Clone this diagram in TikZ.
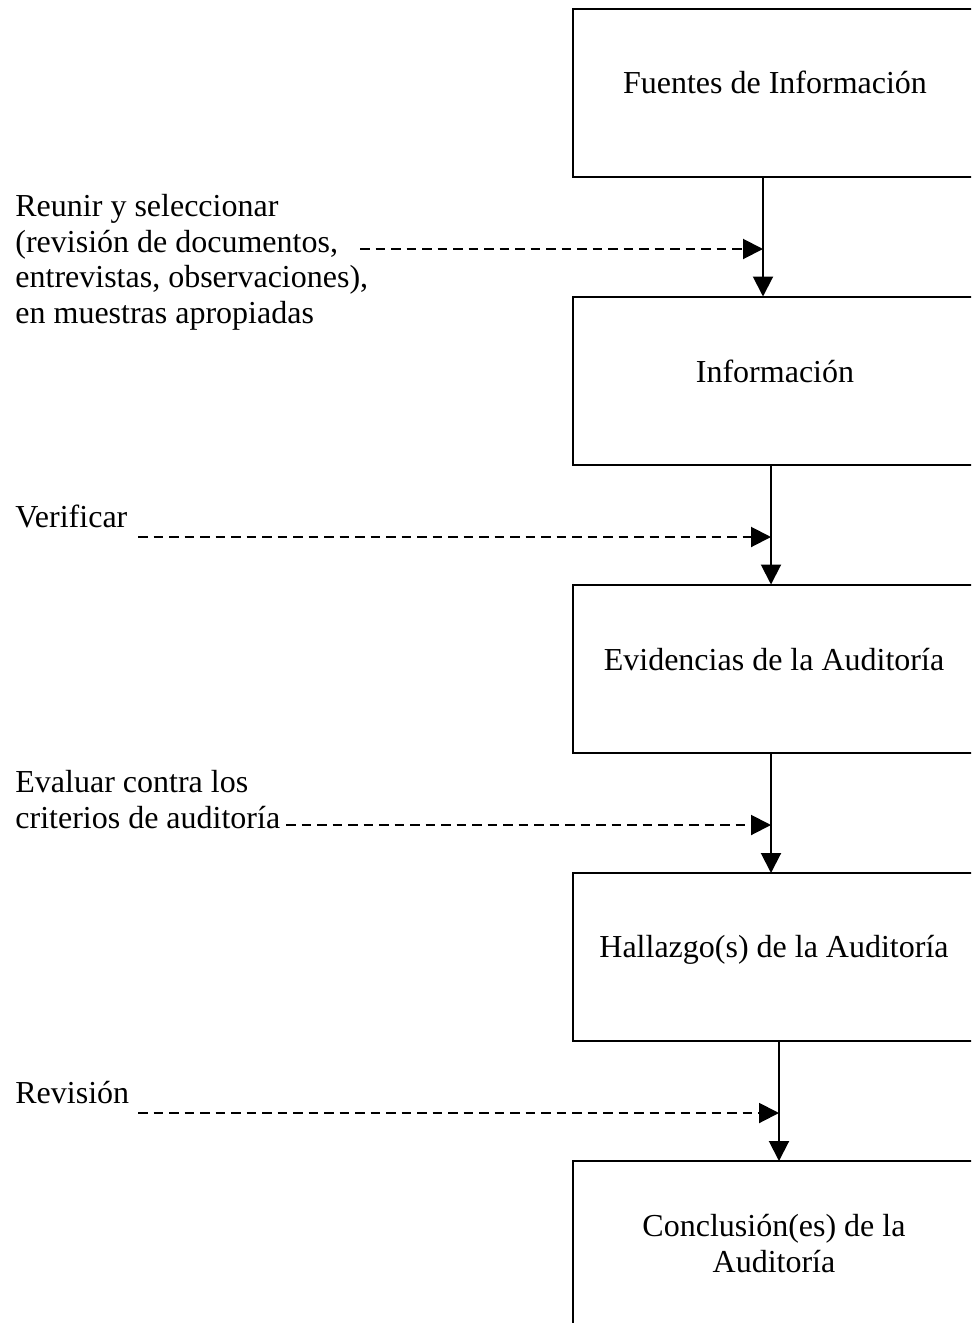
\documentclass[tikz,border=0pt]{standalone}
\usepackage{fontspec}
\setmainfont{Liberation Serif}
\usetikzlibrary{arrows.meta}
\begin{document}
\begin{tikzpicture}[x=0.5pt,y=-0.5pt,
  font=\fontsize{16}{17.75}\selectfont,
  stagebox/.style={draw,line width=1pt,rectangle,minimum width=201pt,minimum height=84pt,outer sep=0pt,inner sep=0pt},
  stagetext/.style={anchor=base,inner sep=0pt},
  sidetext/.style={anchor=base west,align=left,inner sep=0pt},
  flow/.style={line width=1pt,-{Triangle[length=10pt,width=10pt]}},
  dashflow/.style={line width=1pt,dash pattern=on 4.75pt off 3pt,-{Triangle[length=10pt,width=10pt]}}]
\useasboundingbox (0,0) rectangle (971,1323);
\clip (0,0) rectangle (971,1323);
\fill[white] (0,0) rectangle (971,1323);
% boxes
\node[stagebox] (b1) at (774,93) {};
\node[stagebox] (b2) at (774,380.5) {};
\node[stagebox] (b3) at (774,668.5) {};
\node[stagebox] (b4) at (774,957) {};
\node[stagebox] (b5) at (774,1245) {};
% box texts
\node[stagetext] (t1) at (775,93) {Fuentes de Información};
\node[stagetext] (t2) at (775,382) {Información};
\node[stagetext] (t3) at (774,670) {Evidencias de la Auditoría};
\node[stagetext] (t4) at (774,957) {Hallazgo(s) de la Auditoría};
\node[stagetext,align=center] (t5) at (774,1272) {Conclusión(es) de la\\Auditoría};
% side texts
\node[sidetext] (s1) at (15,323) {Reunir y seleccionar\\(revisión de documentos,\\entrevistas, observaciones),\\en muestras apropiadas};
\node[sidetext] (s2) at (15,527) {Verificar};
\node[sidetext] (s3) at (15,828) {Evaluar contra los\\criterios de auditoría};
\node[sidetext] (s4) at (15,1103) {Revisión};
% vertical connectors
\coordinate (v1) at (763,0);
\coordinate (v2) at (771,0);
\coordinate (v3) at (771,0);
\coordinate (v4) at (779,0);
\draw[flow] (b1.south -| v1) -- (b2.north -| v1);
\draw[flow] (b2.south -| v2) -- (b3.north -| v2);
\draw[flow] (b3.south -| v3) -- (b4.north -| v3);
\draw[flow] (b4.south -| v4) -- (b5.north -| v4);
% dashed connectors
\coordinate (d1) at (360,249);
\coordinate (d2) at (138,537);
\coordinate (d3) at (286,825);
\coordinate (d4) at (138,1113);
\draw[dashflow] (d1) -- (d1 -| v1);
\draw[dashflow] (d2) -- (d2 -| v2);
\draw[dashflow] (d3) -- (d3 -| v3);
\draw[dashflow] (d4) -- (d4 -| v4);
\end{tikzpicture}
\end{document}
